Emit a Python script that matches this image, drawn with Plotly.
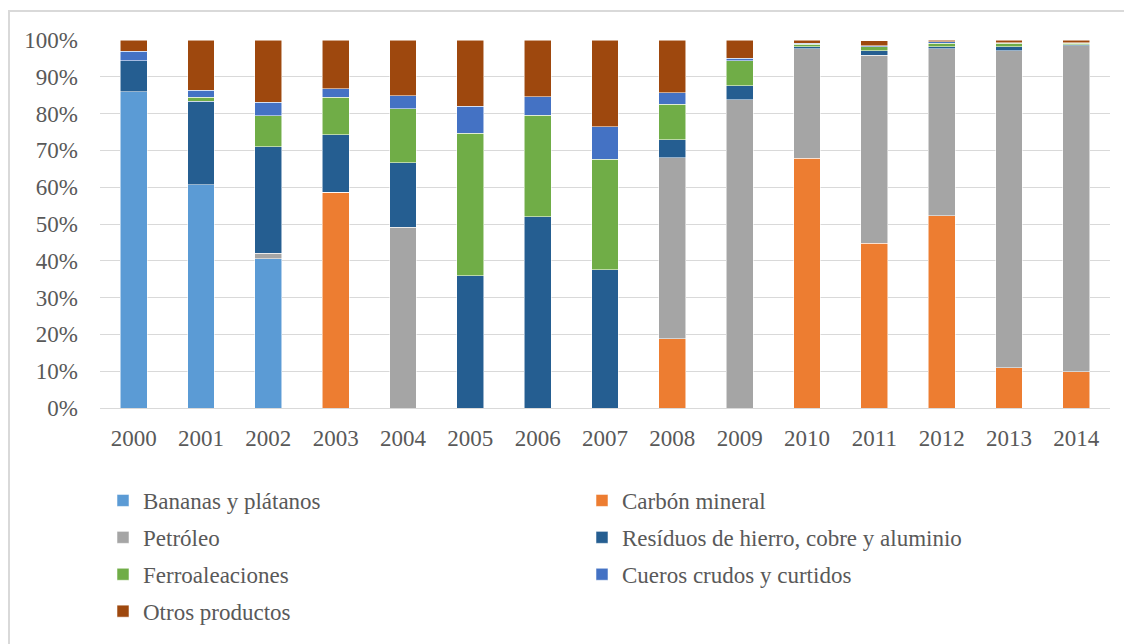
import plotly.graph_objects as go

years = ["2000", "2001", "2002", "2003", "2004", "2005", "2006", "2007",
         "2008", "2009", "2010", "2011", "2012", "2013", "2014"]

bananas    = [86.0, 60.7, 40.6, 0, 0, 0, 0, 0, 0, 0, 0, 0, 0, 0, 0]
carbon     = [0, 0, 0, 58.6, 0, 0, 0, 0, 18.8, 0, 67.9, 44.8, 52.3, 11.0, 9.8]
petroleo   = [0, 0, 1.5, 0, 49.1, 0, 0, 0, 49.2, 83.7, 29.7, 51.0, 45.3, 86.1, 88.6]
residuos   = [8.4, 22.6, 28.9, 15.7, 17.6, 35.9, 52.0, 37.6, 4.9, 3.9, 0.5, 1.3, 0.5, 1.0, 0.3]
ferro      = [0, 1.2, 8.4, 10.2, 14.6, 38.8, 27.5, 30.0, 9.6, 6.8, 0.8, 1.1, 1.0, 1.0, 0.4]
cueros     = [2.5, 1.8, 3.7, 2.2, 3.6, 7.3, 5.1, 8.8, 3.1, 0.7, 0.2, 0.2, 0.4, 0.2, 0.1]
otros      = [3.1, 13.7, 16.9, 13.3, 15.1, 18.0, 15.4, 23.6, 14.4, 4.9, 0.9, 1.4, 0.5, 0.7, 0.8]

series_names = ["Bananas y plátanos", "Carbón mineral", "Petróleo",
                "Resíduos de hierro, cobre y aluminio", "Ferroaleaciones",
                "Cueros crudos y curtidos", "Otros productos"]
series_values = [bananas, carbon, petroleo, residuos, ferro, cueros, otros]
series_colors = ["#5B9BD5", "#ED7D31", "#A5A5A5", "#255E91", "#70AD47", "#4472C4", "#9E480E"]
series_legend = ["legend", "legend2", "legend", "legend2", "legend", "legend2", "legend"]

y_ticks = [0, 10, 20, 30, 40, 50, 60, 70, 80, 90, 100]
y_tick_labels = [f"{v}%" for v in y_ticks]

FONT = "Liberation Serif"
TXT = "#595959"

fig = go.Figure()
for name, vals, col, leg in zip(series_names, series_values, series_colors, series_legend):
    fig.add_trace(go.Bar(
        x=years, y=vals, name=name, legend=leg, legendgroup=name,
        marker=dict(color=col, line=dict(color="rgba(255,255,255,0.7)", width=0.75)),
    ))

# page has an 8px body margin; work in page pixels and convert
OFF = 8
W, H = 1132 - OFF, 644 - OFF
# desired page coordinates of plot area
PL, PR, PT, PB = 100, 1110, 40, 408
ml = PL - OFF
mr = W - (PR - OFF)
mt = PT - OFF
mb = H - (PB - OFF)
pw, ph = PR - PL, PB - PT

def px_x(p):
    return (p - PL) / pw

def px_y(p):
    return (PB - p) / ph

def cx(p):
    return (p - OFF) / W

def cy(p):
    return (H - (p - OFF)) / H

legend_common = dict(
    orientation="v", traceorder="grouped", tracegroupgap=4,
    font=dict(family=FONT, size=23, color=TXT),
    bgcolor="rgba(0,0,0,0)", itemwidth=30, itemclick=False,
    xanchor="left", yanchor="top", xref="container", yref="container",
)

fig.update_layout(
    template="none",
    width=W, height=H,
    margin=dict(l=ml, r=mr, t=mt, b=mb, autoexpand=False),
    paper_bgcolor="white", plot_bgcolor="white",
    barmode="stack", bargap=0.6,
    font=dict(family=FONT, size=23, color=TXT),
    xaxis=dict(
        type="category", categoryorder="array", categoryarray=years,
        showgrid=False, showline=False, zeroline=False, ticks="",
        tickfont=dict(family=FONT, size=23, color=TXT),
        ticklabelstandoff=14, automargin=False,
    ),
    yaxis=dict(
        range=[0, 100], tickvals=y_ticks, ticktext=y_tick_labels,
        showgrid=True, gridcolor="#D9D9D9", gridwidth=1,
        zeroline=True, zerolinecolor="#D9D9D9", zerolinewidth=1,
        showline=False, ticks="",
        tickfont=dict(family=FONT, size=23, color=TXT),
        ticklabelstandoff=21, automargin=False,
    ),
    legend=dict(x=cx(103), y=cy(479), **legend_common),
    legend2=dict(x=cx(582), y=cy(479), **legend_common),
    shapes=[dict(
        type="rect", xref="paper", yref="paper",
        x0=px_x(OFF + 1), x1=px_x(1145), y0=px_y(700), y1=px_y(11),
        line=dict(color="#D9D9D9", width=2), fillcolor="rgba(0,0,0,0)", layer="above",
    )],
)

fig.write_html("out.html")
